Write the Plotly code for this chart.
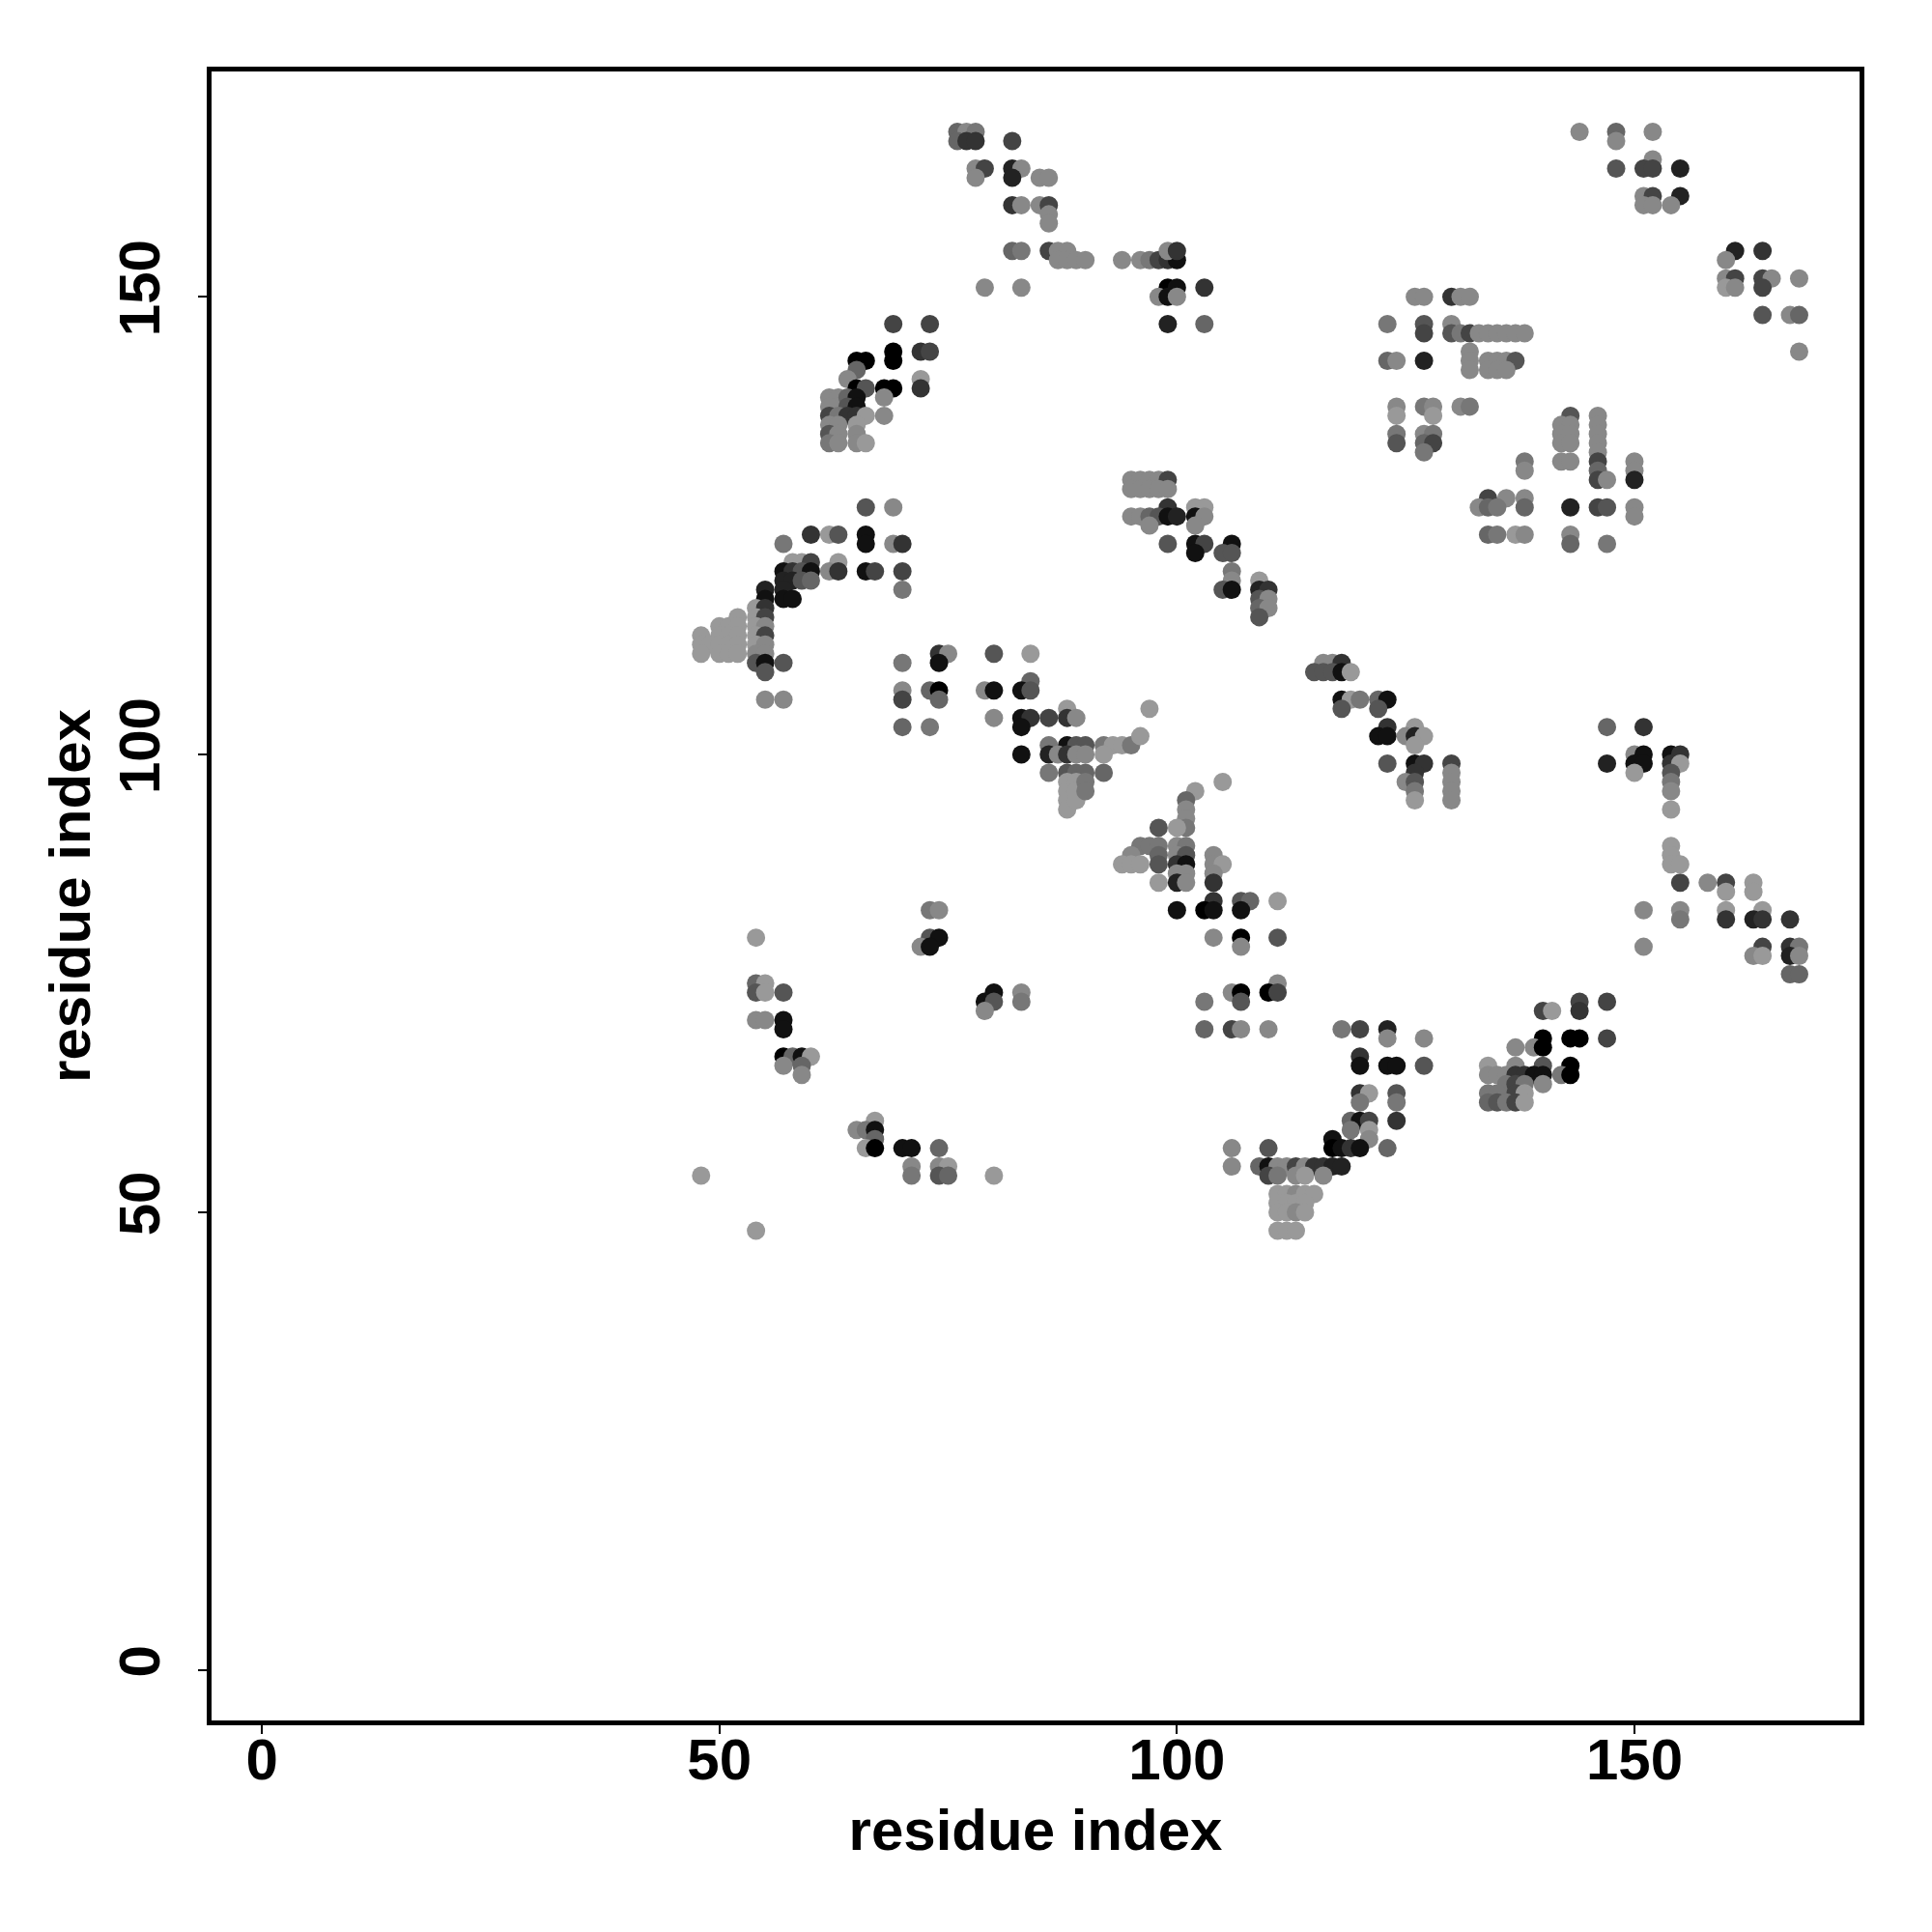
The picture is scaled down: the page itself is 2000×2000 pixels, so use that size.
import plotly.graph_objects as go

# residue index pairs (i on x, j on y) and gray level of each contact point
res_i = [
    76, 77, 78, 76, 77, 78, 82,
    78, 79, 82, 83, 78, 82, 85, 86,
    82, 83, 85, 86, 86, 86,
    82, 83, 86, 87, 88, 87, 88, 89, 90, 79, 83,
    94, 96, 97, 98, 99, 100, 99, 100,
    99, 100, 103, 98, 99, 100, 99, 103,
    126, 127, 130, 131, 132, 123, 127, 130,
    127, 130, 131, 132, 133, 134, 135, 136, 137, 138,
    132, 123, 124, 127, 132, 134, 135, 136, 137, 132, 134, 135, 136,
    124, 127, 128, 131, 132, 124, 128,
    124, 127, 128, 124, 127, 128, 127,
    144, 148, 152, 148, 152, 148, 151, 152, 155,
    151, 152, 155, 151, 152, 154,
    161, 164, 160, 160, 161, 164, 165, 168,
    160, 161, 164, 164, 167, 168, 168,
    143, 146, 142, 143, 146, 142, 143, 146, 142, 143, 146, 146,
    138, 142, 143, 146, 150, 138, 146, 150, 146, 147, 150,
    134, 136, 138, 133, 134, 135, 138, 143, 146, 147, 150, 150,
    134, 135, 137, 138, 143, 143, 147,
    69, 73, 69, 72, 73, 65, 66, 69, 65, 64, 72,
    65, 66, 68, 69, 72, 62, 63, 64, 65, 68,
    62, 64, 65, 62, 63, 64, 65, 66, 68,
    62, 63, 65, 62, 63, 65, 62, 63, 65, 66,
    66, 69, 60, 62, 63, 66, 57, 66, 69, 70,
    58, 59, 60, 63,
    57, 58, 59, 60, 62, 63, 66, 67, 70,
    57, 58, 59, 60, 55, 57, 70, 55, 57, 58,
    54, 55, 52, 54, 55,
    50, 51, 52, 54, 55,
    48, 50, 51, 52, 54, 55,
    48, 49, 50, 51, 52, 54, 55,
    48, 50, 51, 52, 54, 55,
    54, 55, 57, 55, 55, 57,
    74, 75, 80, 84, 70, 74,
    84, 70, 73, 74, 79, 80, 83, 84, 70, 74,
    88, 80, 83, 84, 86, 88, 89, 70, 73, 83,
    86, 88, 89, 90, 92, 93, 94, 95, 96,
    83, 86, 87, 88, 89, 90, 92,
    86, 88, 89, 90, 92,
    88, 88, 88, 88, 89, 89, 89, 90, 90,
    97, 105, 102, 101, 101, 101, 101, 98, 100,
    96, 97, 98, 100, 101, 95, 98, 100, 101, 104,
    94, 95, 96, 98, 100, 101, 104, 105,
    100, 101, 104, 98, 100, 101, 104,
    104, 107, 108, 111, 100, 103, 104, 107,
    104, 107, 111, 107, 111, 106, 107, 110, 111, 103, 107,
    103, 106, 107, 110, 118, 120, 123, 123, 127,
    120, 120, 123, 124, 127, 120, 121, 124, 120, 124,
    119, 120, 121, 124, 119, 121, 121, 117,
    106, 110, 117, 118, 119, 120, 123,
    106, 109, 110, 111, 112, 113, 114, 115, 116, 117, 118,
    110, 111, 113, 114, 116,
    111, 112, 113, 114, 115, 111, 112, 113, 114,
    111, 112, 113, 114, 111, 112, 113,
    73, 74, 54, 73, 74, 72, 73,
    54, 55, 54, 55, 57, 80, 83, 79, 80, 83, 79,
    54, 55, 57, 57, 57, 58, 59, 60, 57, 59, 59,
    67, 65, 66, 67, 67, 66, 67, 70, 71, 74,
    71, 74, 75, 48, 71, 74, 75, 80, 54,
    155, 158, 160, 163, 160, 163,
    151, 155, 160, 164, 155, 160, 163, 164, 167,
    151, 164, 167, 168, 163, 164, 167, 168, 167, 168,
    144, 147, 140, 141, 144, 140, 143, 144, 147, 137, 139, 140,
    134, 137, 140, 143,
    134, 135, 136, 137, 138, 139, 140, 142, 143,
    136, 137, 138, 140, 134, 135, 137, 138,
    134, 135, 136, 137, 138,
    147, 151, 150, 151, 154, 155, 147, 150, 151, 154, 155,
    150, 154, 154, 154, 154, 154, 154, 154, 155,
    116, 117, 118, 115, 116, 117, 118, 119,
    118, 119, 120, 122, 123, 118, 122,
    123, 126, 122, 123, 125, 126, 127, 126,
    123, 126, 127, 130, 126, 130, 125, 126, 130,
    126, 130, 126, 130,
    95, 96, 97, 98, 99, 95, 96, 97, 98, 99,
    99, 102, 103, 95, 96, 97, 98, 99, 100, 102, 103,
    97, 102, 99, 102, 103, 106, 102, 105, 106,
    106, 106, 109, 105, 106, 109, 110, 109, 110, 109, 110, 109,
]

res_j = [
    168, 168, 168, 167, 167, 167, 167,
    164, 164, 164, 164, 163, 163, 163, 163,
    160, 160, 160, 160, 159, 158,
    155, 155, 155, 155, 155, 154, 154, 154, 154, 151, 151,
    154, 154, 154, 154, 154, 154, 155, 155,
    151, 151, 151, 150, 150, 150, 147, 147,
    150, 150, 150, 150, 150, 147, 147, 147,
    146, 146, 146, 146, 146, 146, 146, 146, 146, 146,
    144, 143, 143, 143, 143, 143, 143, 143, 143, 142, 142, 142, 142,
    138, 138, 138, 138, 138, 137, 137,
    135, 135, 135, 134, 134, 134, 133,
    168, 168, 168, 167, 165, 164, 164, 164, 164,
    161, 161, 161, 160, 160, 160,
    155, 155, 154, 152, 152, 152, 152, 152,
    151, 151, 151, 148, 148, 148, 144,
    137, 137, 136, 136, 136, 135, 135, 135, 134, 134, 134, 133,
    132, 132, 132, 132, 132, 131, 131, 131, 130, 130, 130,
    128, 128, 128, 127, 127, 127, 127, 127, 127, 127, 127, 126,
    124, 124, 124, 124, 124, 123, 123,
    147, 147, 144, 144, 144, 143, 143, 143, 142, 141, 141,
    140, 140, 140, 140, 140, 139, 139, 139, 139, 139,
    138, 138, 138, 137, 137, 137, 137, 137, 137,
    136, 136, 136, 135, 135, 135, 134, 134, 134, 134,
    127, 127, 124, 124, 124, 124, 123, 123, 123, 123,
    121, 121, 121, 121,
    120, 120, 120, 120, 120, 120, 120, 120, 120,
    119, 119, 119, 119, 118, 118, 118, 117, 117, 117,
    116, 116, 115, 115, 115,
    114, 114, 114, 114, 114,
    113, 113, 113, 113, 113, 113,
    112, 112, 112, 112, 112, 112, 112,
    111, 111, 111, 111, 111, 111,
    110, 110, 110, 109, 106, 106,
    111, 111, 111, 111, 110, 110,
    108, 107, 107, 107, 107, 107, 107, 107, 106, 106,
    105, 104, 104, 104, 104, 104, 104, 103, 103, 103,
    101, 101, 101, 101, 101, 101, 101, 101, 102,
    100, 100, 100, 100, 100, 100, 100,
    98, 98, 98, 98, 98,
    97, 96, 95, 94, 97, 96, 95, 97, 96,
    105, 97, 96, 95, 94, 93, 92, 92, 92,
    90, 90, 90, 90, 90, 89, 89, 89, 89, 89,
    88, 88, 88, 88, 88, 88, 88, 88,
    87, 87, 87, 86, 86, 86, 86,
    84, 84, 84, 84, 83, 83, 83, 83,
    80, 80, 80, 79, 75, 74, 74, 74, 74, 73, 73,
    70, 70, 70, 70, 70, 70, 70, 69, 69,
    67, 66, 66, 66, 66, 63, 63, 63, 62, 62,
    60, 60, 60, 60, 59, 59, 58, 58,
    57, 57, 57, 57, 57, 57, 57,
    55, 55, 55, 55, 55, 55, 55, 55, 55, 55, 55,
    54, 54, 54, 54, 54,
    52, 52, 52, 52, 52, 51, 51, 51, 51,
    50, 50, 50, 50, 48, 48, 48,
    83, 83, 80, 80, 80, 79, 79,
    75, 75, 74, 74, 74, 74, 74, 73, 73, 73, 72,
    71, 71, 71, 70, 67, 67, 67, 67, 66, 66, 65,
    60, 59, 59, 59, 58, 57, 57, 57, 57, 57,
    55, 55, 55, 54, 54, 54, 54, 54, 48,
    86, 86, 86, 86, 85, 85,
    83, 83, 83, 83, 82, 82, 82, 82, 82,
    79, 79, 79, 79, 78, 78, 78, 78, 76, 76,
    73, 73, 72, 72, 72, 69, 69, 69, 69, 68, 68, 68,
    66, 66, 66, 66,
    65, 65, 65, 65, 65, 65, 65, 65, 65,
    64, 64, 64, 64, 63, 63, 63, 63,
    62, 62, 62, 62, 62,
    103, 103, 100, 100, 100, 100, 99, 99, 99, 99, 99,
    98, 98, 97, 96, 94, 90, 89, 88, 88,
    110, 110, 110, 109, 109, 109, 109, 109,
    106, 106, 106, 106, 106, 105, 105,
    103, 103, 102, 102, 102, 102, 102, 101,
    99, 99, 99, 99, 98, 98, 97, 97, 97,
    96, 96, 95, 95,
    130, 130, 130, 130, 130, 129, 129, 129, 129, 129,
    127, 127, 127, 126, 126, 126, 126, 126, 126, 126, 126,
    125, 125, 123, 123, 123, 123, 122, 122, 122,
    120, 119, 119, 118, 118, 118, 118, 117, 117, 116, 116, 115,
]

gray_level = [
    102, 136, 119, 102, 51, 51, 68,
    136, 68, 34, 136, 136, 34, 136, 136,
    51, 136, 136, 68, 136, 136,
    102, 119, 68, 136, 136, 136, 136, 136, 136, 136, 136,
    136, 136, 119, 68, 51, 17, 136, 51,
    0, 17, 51, 136, 17, 136, 34, 102,
    136, 136, 51, 136, 136, 119, 85, 136,
    68, 85, 119, 68, 136, 136, 136, 136, 136, 136,
    136, 102, 136, 34, 136, 136, 136, 136, 85, 136, 136, 136, 136,
    136, 119, 136, 136, 119, 153, 153,
    119, 136, 119, 85, 102, 68, 119,
    136, 102, 136, 136, 136, 85, 68, 68, 34,
    136, 68, 34, 136, 136, 136,
    34, 51, 136, 136, 68, 68, 136, 136,
    153, 136, 68, 85, 136, 102, 136,
    85, 136, 136, 136, 136, 136, 136, 136, 136, 136, 136, 136,
    119, 136, 136, 68, 136, 136, 102, 136, 68, 136, 34,
    68, 136, 136, 136, 102, 119, 102, 34, 68, 85, 136, 136,
    102, 119, 153, 136, 136, 102, 119,
    68, 68, 0, 51, 68, 0, 0, 0, 102, 136, 153,
    0, 85, 0, 0, 51, 136, 136, 102, 17, 136,
    136, 85, 17, 68, 119, 51, 51, 153, 136,
    136, 136, 153, 85, 136, 136, 119, 136, 136, 153,
    85, 136, 51, 153, 85, 17, 119, 17, 136, 51,
    153, 153, 68, 153,
    17, 51, 85, 17, 136, 51, 17, 68, 68,
    34, 34, 85, 102, 34, 34, 119, 17, 17, 17,
    153, 51, 153, 153, 68,
    153, 153, 153, 153, 136,
    153, 153, 153, 153, 153, 68,
    153, 153, 153, 153, 153, 153, 136,
    153, 153, 153, 153, 136, 136,
    85, 17, 85, 85, 136, 136,
    51, 136, 85, 153, 119, 17,
    102, 136, 102, 0, 136, 17, 17, 85, 68, 102,
    153, 136, 17, 51, 68, 51, 136, 102, 119, 17,
    119, 17, 85, 85, 119, 153, 153, 119, 153,
    17, 34, 136, 51, 136, 136, 153,
    119, 85, 102, 102, 102,
    153, 153, 153, 153, 153, 153, 153, 119, 119,
    153, 153, 153, 102, 136, 136, 119, 85, 153,
    119, 119, 119, 136, 119, 136, 102, 136, 85, 136,
    153, 153, 153, 85, 51, 17, 136, 153,
    136, 136, 136, 153, 34, 136, 51,
    51, 85, 102, 153, 17, 0, 17, 17,
    136, 0, 85, 136, 136, 136, 0, 0, 68, 119, 85,
    102, 68, 136, 136, 119, 68, 34, 136, 136,
    51, 17, 17, 17, 85, 51, 153, 85, 119, 119,
    102, 17, 68, 51, 119, 153, 136, 17,
    136, 85, 0, 17, 51, 17, 102,
    136, 102, 17, 136, 136, 68, 136, 51, 51, 34, 34,
    68, 119, 136, 153, 136,
    153, 153, 136, 153, 153, 153, 153, 153, 153,
    153, 153, 136, 153, 153, 153, 153,
    119, 136, 153, 85, 17, 136, 17,
    102, 153, 85, 153, 85, 17, 136, 17, 85, 119, 136,
    136, 136, 17, 17, 0, 102, 17, 153, 136, 102, 136,
    153, 136, 119, 17, 102, 153, 0, 17, 17, 102,
    136, 136, 153, 153, 119, 85, 102, 153, 153,
    68, 136, 68, 153, 153, 153,
    136, 136, 153, 153, 119, 51, 34, 51, 51,
    136, 68, 51, 119, 136, 153, 34, 136, 102, 102,
    68, 68, 68, 153, 51, 0, 0, 0, 68, 136, 136, 0,
    153, 136, 85, 0,
    136, 136, 136, 51, 51, 17, 17, 119, 0,
    119, 68, 119, 136, 119, 119, 68, 153,
    102, 85, 119, 68, 153,
    102, 51, 136, 17, 17, 51, 34, 17, 17, 51, 153,
    153, 85, 119, 136, 153, 153, 153, 153, 153,
    136, 136, 51, 85, 85, 85, 17, 153,
    17, 153, 119, 102, 17, 85, 85,
    51, 153, 17, 17, 136, 34, 153, 153,
    85, 17, 51, 68, 51, 136, 136, 85, 136,
    119, 136, 153, 136,
    136, 136, 136, 136, 68, 136, 136, 136, 136, 136,
    51, 153, 153, 136, 136, 102, 85, 17, 34, 17, 136,
    136, 136, 85, 17, 68, 17, 17, 85, 85,
    119, 136, 153, 85, 17, 34, 51, 85, 136, 102, 136, 85,
]

tick_values = [0, 50, 100, 150]
tick_labels = ["0", "50", "100", "150"]
axis_title = "residue index"

n = min(len(res_i), len(res_j), len(gray_level))
colors = [f"rgb({g},{g},{g})" for g in gray_level[:n]]

fig = go.Figure(
    go.Scatter(
        x=res_i[:n],
        y=res_j[:n],
        mode="markers",
        marker=dict(size=19, color=colors, line=dict(width=0)),
        hoverinfo="x+y",
    )
)

font_main = dict(family="Liberation Sans, Arial, sans-serif", size=60, color="black", weight="bold")

axis_common = dict(
    showline=True,
    mirror=True,
    linecolor="black",
    linewidth=5,
    ticks="outside",
    ticklen=9,
    tickwidth=2,
    tickcolor="black",
    tickvals=tick_values,
    ticktext=tick_labels,
    showgrid=False,
    zeroline=False,
    tickfont=font_main,
)

fig.update_layout(
    width=2000,
    height=2000,
    margin=dict(l=211, r=83, t=66, b=227),
    paper_bgcolor="white",
    plot_bgcolor="white",
    showlegend=False,
    xaxis=dict(
        range=[-5.5, 174.6],
        title=dict(text=axis_title, font=font_main, standoff=20),
        ticklabelstandoff=-25,
        **axis_common,
    ),
    yaxis=dict(
        range=[-5.5, 174.6],
        title=dict(text=axis_title, font=font_main, standoff=0),
        tickangle=-90,
        ticklabelstandoff=16,
        **axis_common,
    ),
)

fig.write_html("out.html")
